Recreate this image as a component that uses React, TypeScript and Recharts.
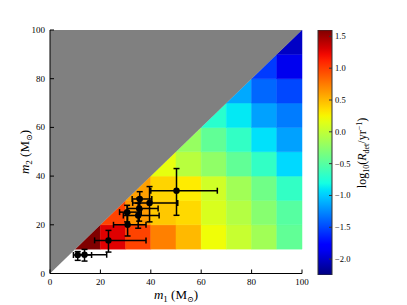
import React from "react";
import { ScatterChart, Scatter, XAxis, YAxis, ReferenceArea, ErrorBar, BarChart, Bar } from "recharts";

// axis ticks
const AXIS_TICKS = [0, 20, 40, 60, 80, 100];
const CBAR_TICKS = [-2.0, -1.5, -1.0, -0.5, 0.0, 0.5, 1.0, 1.5];
const VMIN = -2.25;
const VMAX = 1.6;

// mass bin edges (Msun)
const BIN_EDGES = [10, 20, 30, 40, 50, 60, 70, 80, 90, 100];

// log10 detection rate per bin; row = m2 bin, first entry is the diagonal bin (m1 bin == m2 bin)
const rateM2_10 = [1.6, 1.28, 0.98, 0.73, 0.5, 0.22, 0.03, -0.15, -0.45];
const rateM2_20 = [0.98, 0.63, 0.44, 0.37, 0.11, -0.06, -0.27, -0.5];
const rateM2_30 = [0.6, 0.39, 0.29, 0.07, -0.15, -0.38, -0.67];
const rateM2_40 = [0.18, -0.04, -0.23, -0.45, -0.67, -0.95];
const rateM2_50 = [-0.2, -0.45, -0.67, -0.92, -1.16];
const rateM2_60 = [-0.71, -0.89, -1.16, -1.3];
const rateM2_70 = [-1.13, -1.38, -1.5];
const rateM2_80 = [-1.55, -1.88];
const rateM2_90 = [-2.02];
const RATE_ROWS = [rateM2_10, rateM2_20, rateM2_30, rateM2_40, rateM2_50, rateM2_60, rateM2_70, rateM2_80, rateM2_90];

// observed binaries (source-frame masses, 90% intervals as [minus, plus])
const EVENTS = ["GW150914", "GW151012", "GW151226", "GW170104", "GW170608", "GW170729", "GW170809", "GW170814", "GW170818", "GW170823"];
const M1 = [35.6, 23.2, 13.7, 30.8, 11.0, 50.2, 35.0, 30.6, 35.4, 39.5];
const M1_ERR = [[3.0, 4.8], [5.5, 14.9], [3.2, 8.8], [5.6, 7.3], [1.7, 5.5], [10.2, 16.2], [5.9, 8.3], [3.0, 5.6], [4.7, 7.5], [6.7, 11.2]];
const M2 = [30.6, 13.6, 7.7, 20.0, 7.6, 34.0, 23.8, 25.2, 26.7, 29.0];
const M2_ERR = [[4.4, 3.0], [4.8, 4.1], [2.6, 2.2], [4.6, 4.9], [2.2, 1.4], [10.1, 9.1], [5.2, 5.1], [4.0, 2.8], [5.2, 4.3], [7.8, 6.7]];

const points = EVENTS.map((name, i) => ({ name, m1: M1[i], m2: M2[i], ex: M1_ERR[i], ey: M2_ERR[i] }));
const cbarData = [{ name: "cbar", range: [VMIN, VMAX] }];

// matplotlib "jet"
const JET_R = [[0, 0], [0.35, 0], [0.66, 1], [0.89, 1], [1, 0.5]];
const JET_G = [[0, 0], [0.125, 0], [0.375, 1], [0.64, 1], [0.91, 0], [1, 0]];
const JET_B = [[0, 0.5], [0.11, 1], [0.34, 1], [0.65, 0], [1, 0]];
function seg(pts: number[][], t: number) {
  for (let i = 1; i < pts.length; i++) {
    if (t <= pts[i][0]) {
      const [t0, v0] = pts[i - 1];
      const [t1, v1] = pts[i];
      return v0 + ((t - t0) / (t1 - t0)) * (v1 - v0);
    }
  }
  return pts[pts.length - 1][1];
}
function jet(t: number) {
  const c = Math.max(0, Math.min(1, t));
  return `rgb(${[JET_R, JET_G, JET_B].map((p) => Math.round(255 * seg(p, c))).join(",")})`;
}
const norm = (v: number) => (v - VMIN) / (VMAX - VMIN);

const cells = RATE_ROWS.flatMap((row, i) =>
  row.map((v, k) => ({
    m1lo: BIN_EDGES[i + k], m1hi: BIN_EDGES[i + k + 1],
    m2lo: BIN_EDGES[i], m2hi: BIN_EDGES[i + 1],
    diag: k === 0, color: jet(norm(v)),
  }))
);

const FONT = "'Liberation Serif', 'DejaVu Serif', serif";

const BottomTick = (p: any) => (
  <g>
    <line x1={p.x} x2={p.x} y1={p.y - 3} y2={p.y - 7} stroke="#000" />
    <text x={p.x} y={p.y + 8} textAnchor="middle" fontSize={9} fontFamily={FONT} fill="#000">{p.payload.value}</text>
  </g>
);
const LeftTick = (p: any) => (
  <g>
    <line x1={p.x + 3} x2={p.x + 7} y1={p.y} y2={p.y} stroke="#000" />
    <text x={p.x - 2} y={p.y + 3} textAnchor="end" fontSize={9} fontFamily={FONT} fill="#000">{p.payload.value}</text>
  </g>
);
const TopTick = (p: any) => <line x1={p.x} x2={p.x} y1={p.y} y2={p.y + 4} stroke="#000" />;
const RightTick = (p: any) => <line x1={p.x} x2={p.x - 4} y1={p.y} y2={p.y} stroke="#000" />;
const CbarTick = (p: any) => (
  <g>
    <line x1={p.x - 3} x2={p.x - 6} y1={p.y} y2={p.y} stroke="#333" />
    <text x={p.x} y={p.y + 3} fontSize={8.5} fontFamily={FONT} fill="#000">
      {p.payload.value.toFixed(1).replace("-", "\u2212")}
    </text>
  </g>
);

const DiagCell = (color: string) => (p: any) => (
  <polygon
    points={`${p.x},${p.y + p.height} ${p.x + p.width},${p.y + p.height} ${p.x + p.width},${p.y}`}
    fill={color} stroke={color} strokeWidth={0.5}
  />
);
const UpperTriangle = (p: any) => (
  <polygon points={`${p.x},${p.y + p.height} ${p.x},${p.y} ${p.x + p.width},${p.y}`} fill="#808080" />
);
const Dot = (p: any) => <circle cx={p.cx} cy={p.cy} r={3.2} fill="#000" />;

export default function App() {
  return (
    <div style={{ position: "absolute", left: 0, top: 0, width: 407, height: 305, background: "#fff" }}>
      <ScatterChart width={407} height={305} margin={{ top: 30, right: 105, bottom: 8, left: 20 }}>
        <XAxis xAxisId="b" dataKey="m1" type="number" domain={[0, 100]} ticks={AXIS_TICKS} height={23.5}
          tickSize={0} tickMargin={3} tick={BottomTick} axisLine={{ stroke: "#000" }} allowDataOverflow />
        <XAxis xAxisId="t" orientation="top" type="number" domain={[0, 100]} ticks={AXIS_TICKS} height={0}
          tickSize={0} tickMargin={0} tick={TopTick} axisLine={{ stroke: "#000" }} allowDataOverflow />
        <YAxis yAxisId="l" dataKey="m2" type="number" domain={[0, 100]} ticks={AXIS_TICKS} width={30}
          tickSize={0} tickMargin={3} tick={LeftTick} axisLine={{ stroke: "#000" }} allowDataOverflow />
        <YAxis yAxisId="r" orientation="right" type="number" domain={[0, 100]} ticks={AXIS_TICKS} width={0}
          tickSize={0} tickMargin={0} tick={RightTick} axisLine={{ stroke: "#000" }} allowDataOverflow />
        {cells.map((c, i) =>
          c.diag ? (
            <ReferenceArea key={i} xAxisId="b" yAxisId="l" x1={c.m1lo} x2={c.m1hi} y1={c.m2lo} y2={c.m2hi}
              shape={DiagCell(c.color)} />
          ) : (
            <ReferenceArea key={i} xAxisId="b" yAxisId="l" x1={c.m1lo} x2={c.m1hi} y1={c.m2lo} y2={c.m2hi}
              fill={c.color} fillOpacity={1} stroke={c.color} strokeWidth={0.5} />
          )
        )}
        <ReferenceArea xAxisId="b" yAxisId="l" x1={0} x2={100} y1={0} y2={100} shape={UpperTriangle} />
        <Scatter xAxisId="b" yAxisId="l" data={points} dataKey="m2" shape={Dot} isAnimationActive={false}>
          <ErrorBar dataKey="ex" direction="x" width={3} stroke="#000" strokeWidth={1.5} isAnimationActive={false} />
          <ErrorBar dataKey="ey" direction="y" width={3} stroke="#000" strokeWidth={1.5} isAnimationActive={false} />
        </Scatter>
      </ScatterChart>

      <div style={{ position: "absolute", left: 308, top: 0 }}>
        <BarChart width={70} height={305} data={cbarData} barCategoryGap={0}
          margin={{ top: 30, right: 0, bottom: 30, left: 10 }}>
          <defs>
            <linearGradient id="jetBar" x1="0" y1="1" x2="0" y2="0">
              {Array.from({ length: 41 }, (_, i) => (
                <stop key={i} offset={i / 40} stopColor={jet(i / 40)} />
              ))}
            </linearGradient>
          </defs>
          <XAxis dataKey="name" hide />
          <YAxis orientation="right" type="number" domain={[VMIN, VMAX]} ticks={CBAR_TICKS} width={46}
            tickSize={0} tickMargin={3} tick={CbarTick} axisLine={false} allowDataOverflow />
          <Bar dataKey="range" fill="url(#jetBar)" stroke="#333" strokeWidth={1} isAnimationActive={false} />
        </BarChart>
      </div>

      <svg width={407} height={305} style={{ position: "absolute", left: 0, top: 0, pointerEvents: "none" }}
        fontFamily={FONT} fill="#000">
        <text x={176} y={299} textAnchor="middle" fontSize={13}>
          <tspan fontStyle="italic">m</tspan>
          <tspan fontSize={9} dy={3}>1</tspan>
          <tspan dy={-3}> (M</tspan>
          <tspan fontSize={8} dy={3}>⊙</tspan>
          <tspan dy={-3}>)</tspan>
        </text>
        <text x={0} y={0} textAnchor="middle" fontSize={13} transform="translate(29,152) rotate(-90)">
          <tspan fontStyle="italic">m</tspan>
          <tspan fontSize={9} dy={3}>2</tspan>
          <tspan dy={-3}> (M</tspan>
          <tspan fontSize={8} dy={3}>⊙</tspan>
          <tspan dy={-3}>)</tspan>
        </text>
        <text x={0} y={0} textAnchor="middle" fontSize={12} transform="translate(366,153) rotate(-90)">
          <tspan>log</tspan>
          <tspan fontSize={8} dy={3}>10</tspan>
          <tspan dy={-3}>(</tspan>
          <tspan fontStyle="italic">R</tspan>
          <tspan fontSize={8} dy={3}>det</tspan>
          <tspan dy={-3}>/yr</tspan>
          <tspan fontSize={8} dy={-4}>−1</tspan>
          <tspan dy={4}>)</tspan>
        </text>
      </svg>
    </div>
  );
}
